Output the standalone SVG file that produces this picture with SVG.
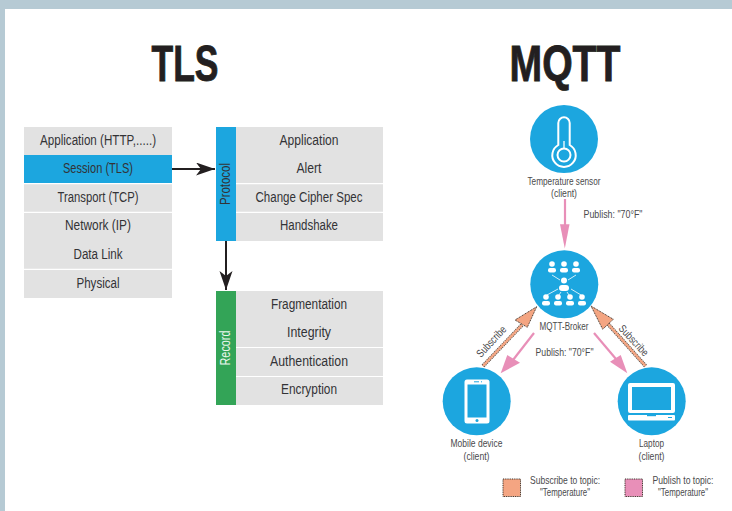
<svg xmlns="http://www.w3.org/2000/svg" width="732" height="511" viewBox="0 0 732 511">
<style>
text{font-family:"Liberation Sans Narrow","Liberation Sans",Arial,sans-serif;fill:#3a3a3c;text-anchor:middle}
.t{font-size:15.500px;fill:#333336}
.s{font-size:11px;fill:#4a4a4c}
.h{font-size:50px;font-weight:bold;fill:#231f20;stroke:#231f20;stroke-width:.9}
.g{fill:#e2e2e2}
.sep{stroke:#fff;stroke-width:1.2}
.c{fill:#1ca6df}
.w{fill:#fff}
.wl{fill:none;stroke:#fff;stroke-width:2}
.bl{stroke:#231f20;stroke-width:2;fill:none}
.pk{fill:#e88fb8}
.pl{stroke:#e88fb8;stroke-width:2.200;fill:none}
.or{fill:#f4a582;stroke:#3a3028;stroke-width:1;stroke-dasharray:1 .8}
.ol{stroke:#5a4a40;stroke-width:3.800;fill:none;stroke-dasharray:1.500 .7}
.oi{stroke:#f4a582;stroke-width:2.400;fill:none}
</style>
<defs>
<marker id="ah" markerUnits="userSpaceOnUse" markerWidth="20" markerHeight="14" refX="19" refY="6.500" orient="auto"><path d="M0 0L19 6.500L0 13L5 6.500Z" fill="#231f20"/></marker>
</defs>
<rect width="732" height="511" fill="#fff"/>
<path d="M0 0H732V9H5V511H0Z" fill="#b6cad4"/>
<text class="h" x="185" y="81" textLength="67" lengthAdjust="spacingAndGlyphs">TLS</text>
<text class="h" x="565" y="81" textLength="111" lengthAdjust="spacingAndGlyphs">MQTT</text>

<g id="osi-stack">
<rect class="g" x="24" y="127" width="148" height="171"/>
<rect class="c" x="24" y="155" width="148" height="28"/>
<path class="sep" d="M24 183.700H172M24 212.300H172M24 269.300H172"/>
<text class="t" x="98" y="145" textLength="116" lengthAdjust="spacingAndGlyphs">Application (HTTP,.....)</text>
<text class="t" x="98" y="173" textLength="70" lengthAdjust="spacingAndGlyphs">Session (TLS)</text>
<text class="t" x="98" y="202" textLength="81" lengthAdjust="spacingAndGlyphs">Transport (TCP)</text>
<text class="t" x="98" y="230" textLength="66" lengthAdjust="spacingAndGlyphs">Network (IP)</text>
<text class="t" x="98" y="259" textLength="49" lengthAdjust="spacingAndGlyphs">Data Link</text>
<text class="t" x="98" y="288" textLength="43" lengthAdjust="spacingAndGlyphs">Physical</text>
</g>

<g id="protocol">
<rect class="g" x="236" y="127" width="147" height="114"/>
<rect class="c" x="216" y="127" width="20" height="114"/>
<path class="sep" d="M236 183.700H383M236 212.300H383"/>
<text class="t" transform="translate(230 184) rotate(-90)" textLength="42" lengthAdjust="spacingAndGlyphs">Protocol</text>
<text class="t" x="309" y="145" textLength="59" lengthAdjust="spacingAndGlyphs">Application</text>
<text class="t" x="309" y="173" textLength="25" lengthAdjust="spacingAndGlyphs">Alert</text>
<text class="t" x="309" y="202" textLength="107" lengthAdjust="spacingAndGlyphs">Change Cipher Spec</text>
<text class="t" x="309" y="230" textLength="58" lengthAdjust="spacingAndGlyphs">Handshake</text>
</g>

<g id="record">
<rect class="g" x="236" y="291" width="147" height="114"/>
<rect x="216" y="291" width="20" height="114" fill="#33a457"/>
<path class="sep" d="M236 347.500H383M236 376.500H383"/>
<text class="t" transform="translate(230 348) rotate(-90)" textLength="35" lengthAdjust="spacingAndGlyphs" style="fill:#e8f5ec">Record</text>
<text class="t" x="309" y="309" textLength="76" lengthAdjust="spacingAndGlyphs">Fragmentation</text>
<text class="t" x="309" y="337" textLength="44" lengthAdjust="spacingAndGlyphs">Integrity</text>
<text class="t" x="309" y="366" textLength="78" lengthAdjust="spacingAndGlyphs">Authentication</text>
<text class="t" x="309" y="394" textLength="56" lengthAdjust="spacingAndGlyphs">Encryption</text>
</g>

<g id="connectors">
<path class="bl" d="M172 169H215" marker-end="url(#ah)"/>
<path class="bl" d="M226 241V290" marker-end="url(#ah)"/>
<path class="pl" d="M565 199V226"/>
<path class="pk" d="M560 224.300H569.500L564.800 248.500Z"/>
<path class="pl" d="M534 333L513 360"/>
<path class="pk" d="M500.700 373.300L507.300 355L520 362.700Z"/>
<path class="pl" d="M594 333L616 359"/>
<path class="pk" d="M627.300 373.300L610 361.700L620.700 355Z"/>
<path class="ol" d="M483 366L522 325"/>
<path class="oi" d="M483 366L522 325"/>
<path class="or" d="M536.700 306.700L515 320L527.300 327.300Z"/>
<path class="ol" d="M645.500 366L608 324"/>
<path class="oi" d="M645.500 366L608 324"/>
<path class="or" d="M591 306L613.300 319.300L602.700 329.300Z"/>
<text class="s" x="613" y="218" textLength="59" lengthAdjust="spacingAndGlyphs">Publish: "70°F"</text>
<text class="s" x="564.500" y="356" textLength="58" lengthAdjust="spacingAndGlyphs">Publish: "70°F"</text>
<text class="s" transform="translate(494 344) rotate(-47)" textLength="38" lengthAdjust="spacingAndGlyphs">Subscribe</text>
<text class="s" transform="translate(631 343) rotate(47)" textLength="38" lengthAdjust="spacingAndGlyphs">Subscribe</text>
</g>

<g id="temperature-sensor">
<circle class="c" cx="564" cy="139" r="34"/>
<path class="wl" d="M558.300 123a5.700 5.700 0 0 1 11.400 0V145a11.700 11.700 0 1 1-11.400 0Z"/>
<circle class="wl" cx="564" cy="155" r="6.500"/>
<path d="M564 141V149" stroke="#fff" stroke-width="1.300"/>
<text class="s" x="564" y="185" textLength="73" lengthAdjust="spacingAndGlyphs">Temperature sensor</text>
<text class="s" x="564" y="197" textLength="26" lengthAdjust="spacingAndGlyphs">(client)</text>
</g>

<g id="mqtt-broker">
<circle class="c" cx="564.300" cy="284.300" r="34"/>
<g class="w">
<circle cx="552" cy="264" r="2.800"/><rect x="548" y="268" width="8" height="4.500" rx="2"/>
<circle cx="564" cy="264" r="2.800"/><rect x="560" y="268" width="8" height="4.500" rx="2"/>
<circle cx="576" cy="264" r="2.800"/><rect x="572" y="268" width="8" height="4.500" rx="2"/>
<circle cx="564" cy="280.500" r="3"/><rect x="559" y="285" width="10" height="6" rx="3"/>
<circle cx="546" cy="297" r="2.800"/><rect x="542" y="301" width="8" height="4.500" rx="2"/>
<circle cx="558" cy="297" r="2.800"/><rect x="554" y="301" width="8" height="4.500" rx="2"/>
<circle cx="570" cy="297" r="2.800"/><rect x="566" y="301" width="8" height="4.500" rx="2"/>
<circle cx="582" cy="297" r="2.800"/><rect x="578" y="301" width="8" height="4.500" rx="2"/>
</g>
<path d="M552 275L560 280M576 275L568 280M558 289L547 295M561 292L559 295M567 292L569 295M571 289L581 295" stroke="#fff" stroke-width=".8" fill="none"/>
<text class="s" x="564" y="330" textLength="49" lengthAdjust="spacingAndGlyphs">MQTT-Broker</text>
</g>

<g id="mobile-device">
<circle class="c" cx="476.700" cy="401.300" r="34"/>
<rect x="464.500" y="379.500" width="25" height="44" rx="2.500" class="w"/>
<rect x="467.500" y="384.500" width="19" height="33" class="c"/>
<circle cx="477" cy="420.500" r="1.500" class="c"/>
<path d="M474 381.800H479M481 381.800H482" stroke="#1ca6df" stroke-width="1"/>
<text class="s" x="476.500" y="447" textLength="52" lengthAdjust="spacingAndGlyphs">Mobile device</text>
<text class="s" x="476.500" y="460" textLength="26" lengthAdjust="spacingAndGlyphs">(client)</text>
</g>

<g id="laptop">
<circle class="c" cx="651.700" cy="401.300" r="34"/>
<rect x="628" y="383" width="47" height="30" rx="2" class="w"/>
<rect x="632" y="387" width="39" height="23" class="c"/>
<rect x="628" y="415" width="47" height="5.500" rx="1" class="w"/>
<rect x="647" y="415" width="9" height="1.200" class="c"/>
<rect x="668" y="417" width="4" height="1" class="c"/>
<text class="s" x="651.500" y="447" textLength="25" lengthAdjust="spacingAndGlyphs">Laptop</text>
<text class="s" x="651.500" y="460" textLength="26" lengthAdjust="spacingAndGlyphs">(client)</text>
</g>

<g id="legend-subscribe">
<rect class="or" x="503" y="479" width="17.500" height="17.500"/>
<text class="s" x="565" y="484" textLength="70" lengthAdjust="spacingAndGlyphs">Subscribe to topic:</text>
<text class="s" x="565" y="496" textLength="50" lengthAdjust="spacingAndGlyphs">"Temperature"</text>
</g>
<g id="legend-publish">
<rect class="pk" x="625" y="479" width="17.500" height="17.500" stroke="#3a3028" stroke-width="1" stroke-dasharray="1 .8"/>
<text class="s" x="683" y="484" textLength="61" lengthAdjust="spacingAndGlyphs">Publish to topic:</text>
<text class="s" x="683" y="496" textLength="50" lengthAdjust="spacingAndGlyphs">"Temperature"</text>
</g>
</svg>
